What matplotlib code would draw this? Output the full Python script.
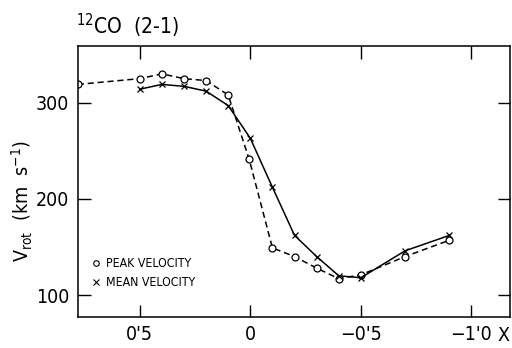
import matplotlib
matplotlib.use("Agg")
import matplotlib.pyplot as plt
from matplotlib.lines import Line2D

plt.rcParams['font.family'] = ['DejaVu Sans']
plt.rcParams['font.stretch'] = 'condensed'

peak_x = [0.78, 0.50, 0.40, 0.30, 0.20, 0.10, 0.005, -0.10, -0.20, -0.30, -0.40, -0.50, -0.70, -0.90]
peak_v = [319, 325, 330, 325, 323, 308, 241, 149, 140, 128, 117, 121, 140, 157]

mean_x = [0.50, 0.40, 0.30, 0.20, 0.10, 0.0, -0.10, -0.20, -0.30, -0.40, -0.50, -0.70, -0.90]
mean_v = [314, 319, 317, 312, 297, 263, 212, 162, 140, 120, 118, 146, 162]

xticks = [0.5, 0.0, -0.5, -1.0]
xticklabels = ["0'5", "0", "\u22120'5", "\u22121'0"]
yticks = [100, 200, 300]

fig = plt.figure(figsize=(5.12, 3.48), dpi=100)
ax = fig.add_axes([0.152, 0.09, 0.844, 0.778])

ax.plot(peak_x, peak_v, color='black', linestyle=(0, (4, 2.5)), linewidth=1.1,
        marker='o', markersize=5, markerfacecolor='white', markeredgewidth=0.9)
ax.plot(mean_x, mean_v, color='black', linestyle='-', linewidth=1.1,
        marker='x', markersize=4.5, markeredgewidth=0.9)

ax.set_xlim(0.78, -1.174)
ax.set_ylim(77.5, 359)

ax.set_xticks(xticks)
ax.set_xticklabels(xticklabels)
ax.set_yticks(yticks)
ax.tick_params(direction='in', length=9, width=1, labelsize=14, pad=6,
               top=True, right=True)
for s in ax.spines.values():
    s.set_linewidth(1.1)

ax.set_ylabel(r'V$_{\rm rot}$  (km  s$^{-1}$)', fontsize=14)
ax.yaxis.set_label_coords(-0.10, 0.425)
ax.text(1.0, -0.035, 'X', transform=ax.transAxes, ha='right', va='top', fontsize=14)

fig.text(0.148, 0.925, r'$^{12}$CO  (2-1)', fontsize=15, ha='left', va='center')

handles = [Line2D([], [], linestyle='none', marker='o', markersize=4, markerfacecolor='white',
                  markeredgecolor='black', markeredgewidth=0.8),
           Line2D([], [], linestyle='none', marker='x', markersize=4, color='black',
                  markeredgewidth=0.8)]
ax.legend(handles, ['PEAK VELOCITY', 'MEAN VELOCITY'], loc='lower left',
          bbox_to_anchor=(0.02, 0.08), frameon=False, fontsize=8.8,
          handlelength=0.6, handletextpad=0.5, labelspacing=0.45, borderpad=0)

fig.savefig('out.png', dpi=100)
